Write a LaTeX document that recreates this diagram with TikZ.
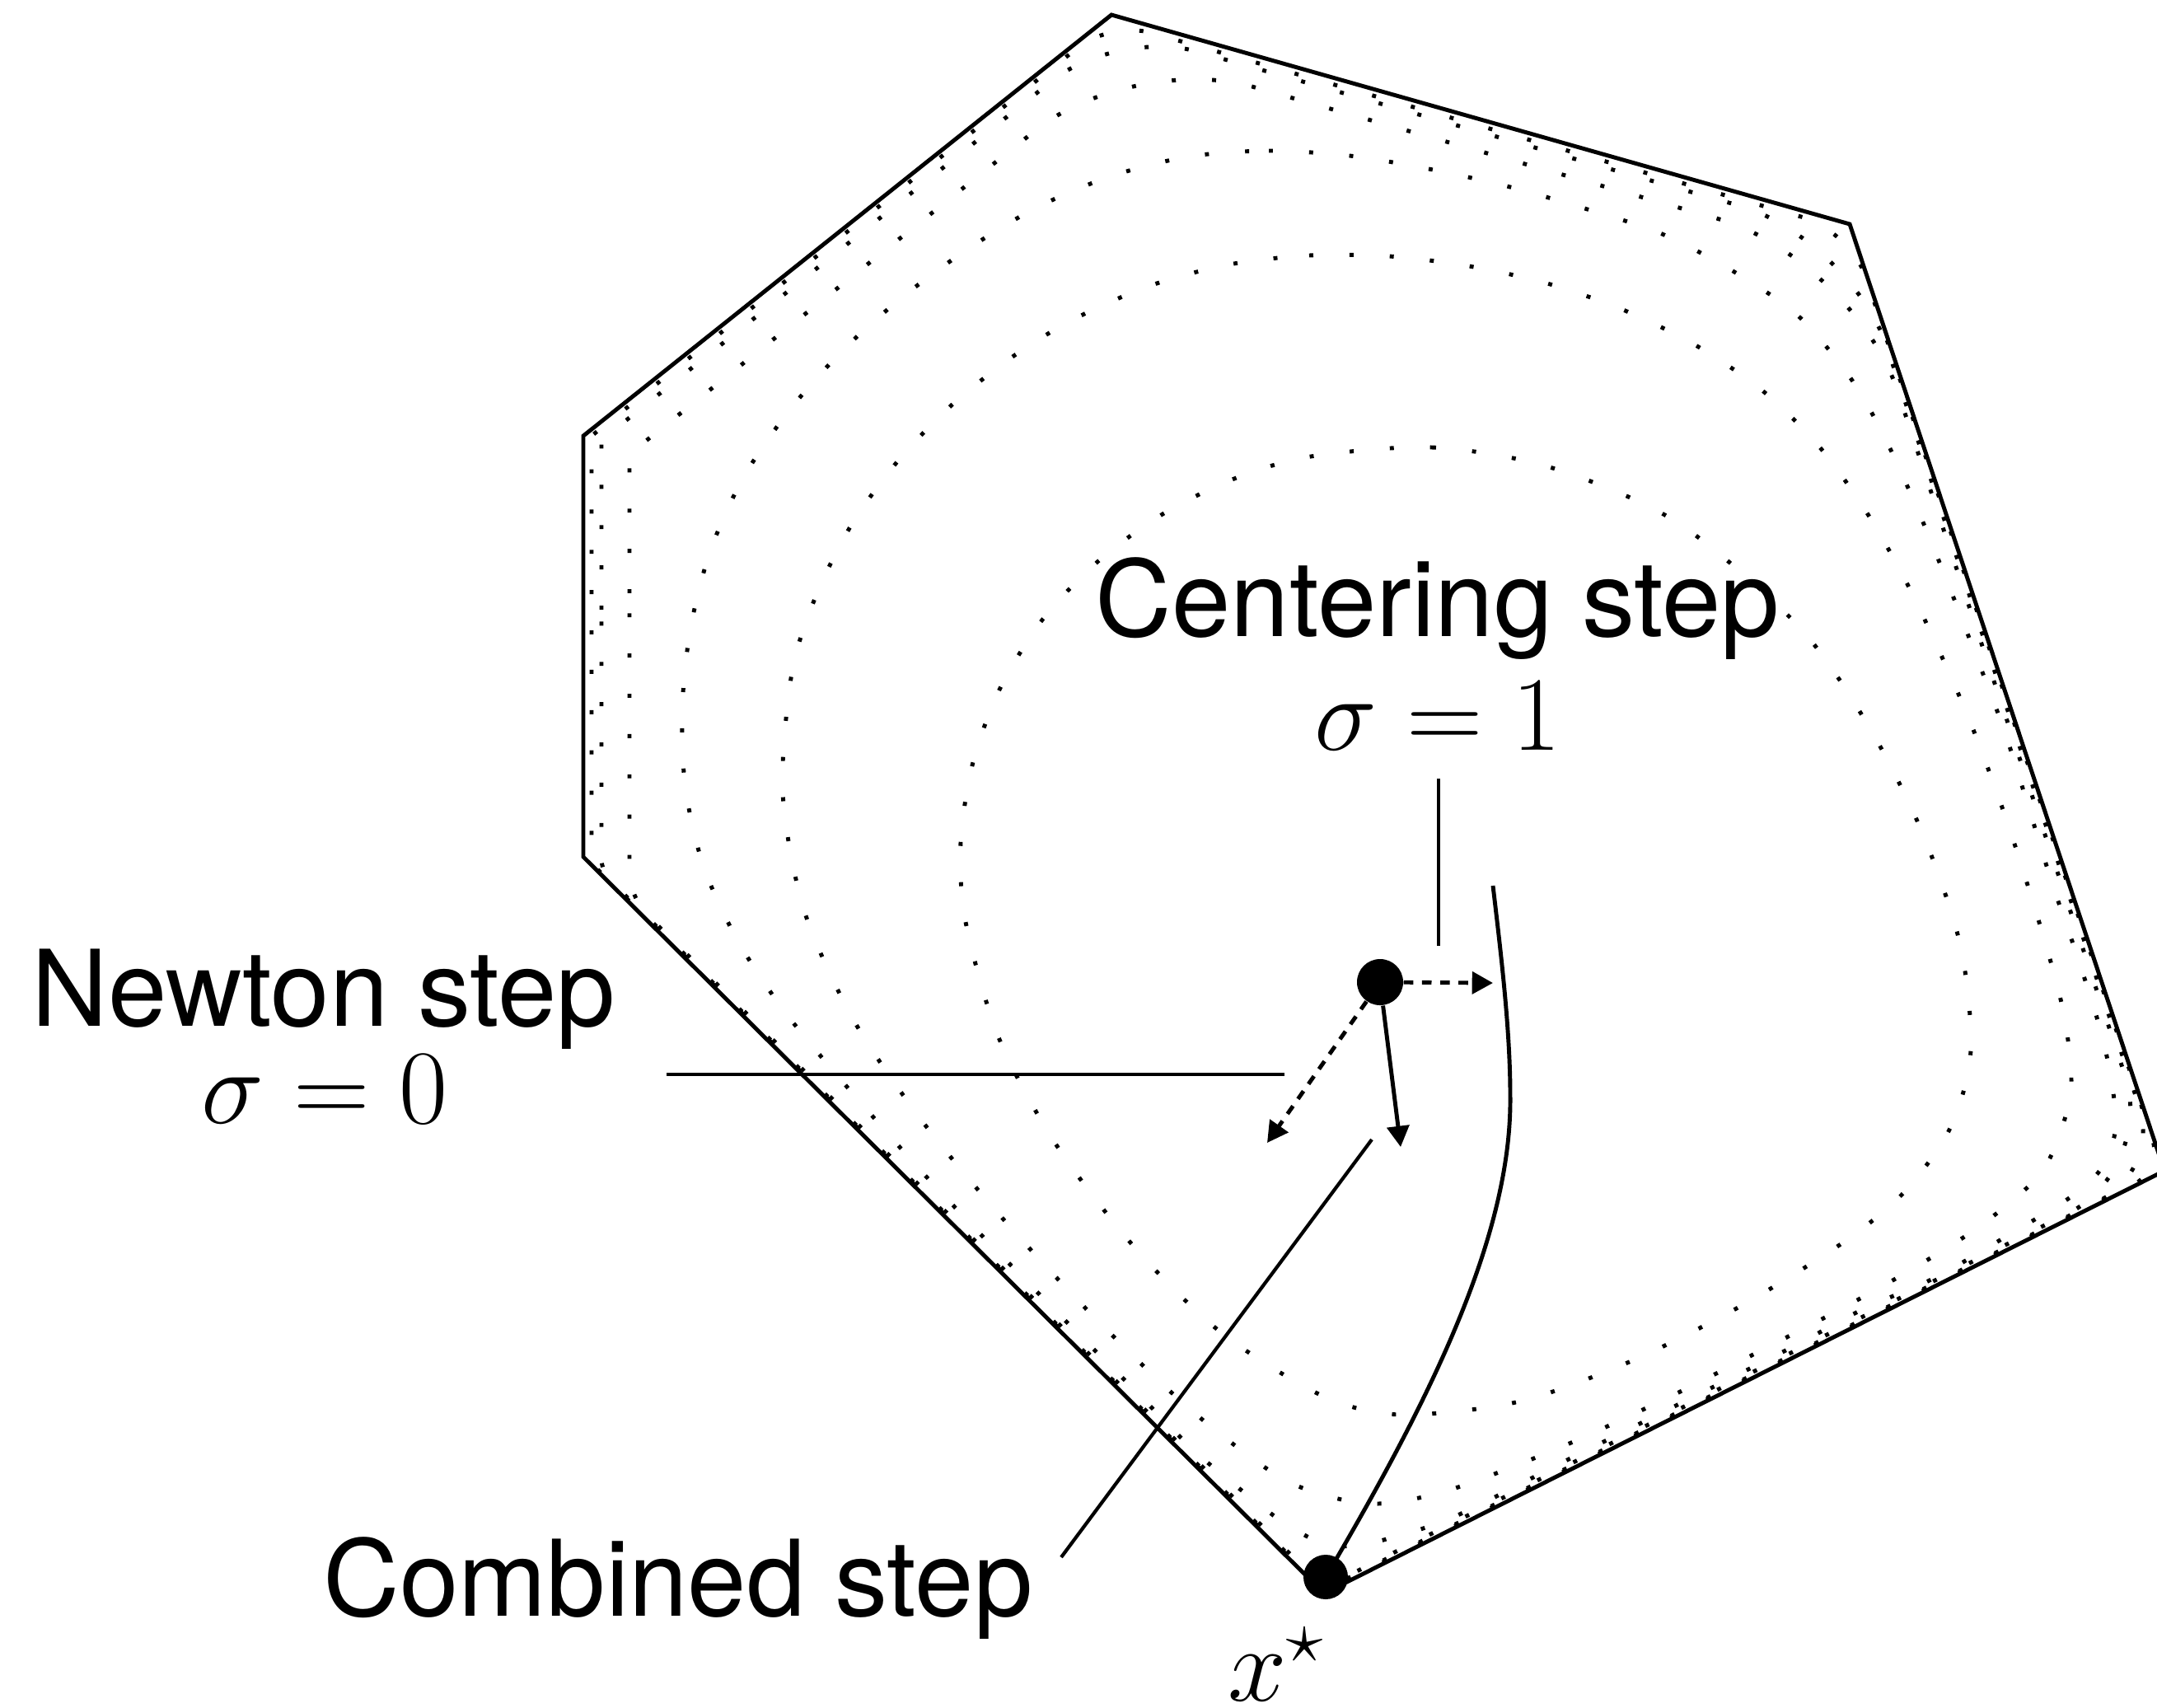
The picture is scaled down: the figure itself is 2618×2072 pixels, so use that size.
\RequirePackage{fix-cm}
\documentclass[tikz,border=0pt]{standalone}
\usepackage{fontspec}
\setsansfont{TeX Gyre Heros}
\usetikzlibrary{arrows.meta}

\begin{document}
\begin{tikzpicture}[x=0.01cm, y=-0.01cm,
	bnd/.style={line width=1.4pt},
	lvl/.style={line width=1.4pt, dash pattern=on 1.4pt off 12.5pt},
	ptr/.style={line width=1.2pt},
	arr/.style={line width=1.4pt, -{Triangle[length=7.2pt, width=7.6pt]}},
	dsh/.style={arr, dash pattern=on 3.3pt off 3pt},
	ptdot/.style={circle, fill, inner sep=0pt, minimum size=0.56cm},
	lbl/.style={font=\fontsize{36.5}{40}\selectfont\sffamily, inner sep=0pt, anchor=base}]
	\useasboundingbox (0,0) rectangle (2618,2072);

	% level sets of the barrier
	\draw[lvl] plot[smooth cycle] coordinates {(1591,554) (1738,543) (1881,567) (2034,633) (2181,758) (2266,878) (2332,1008) (2379,1146) (2392,1274) (2368,1367) (2312,1446) (2237,1508) (2113,1585) (1982,1651) (1844,1701) (1700,1717) (1605,1694) (1483,1618) (1378,1515) (1281,1388) (1212,1259) (1172,1119) (1166,1022) (1181,925) (1214,835) (1266,751) (1333,681) (1411,624) (1498,581)};
	\draw[lvl] plot[smooth cycle] coordinates {(1492,321) (1589,310) (1686,311) (1783,323) (1878,344) (1970,376) (2058,419) (2139,474) (2208,542) (2265,621) (2313,705) (2355,793) (2394,883) (2438,1003) (2482,1143) (2506,1237) (2513,1327) (2481,1418) (2410,1483) (2328,1536) (2243,1584) (2157,1629) (2027,1695) (1893,1757) (1757,1809) (1662,1825) (1569,1801) (1488,1746) (1413,1682) (1310,1580) (1211,1472) (1118,1359) (1036,1238) (976,1105) (950,962) (961,817) (990,724) (1034,636) (1091,558) (1159,488) (1236,428) (1308,385) (1398,346)};
	\draw[lvl] plot[smooth cycle] coordinates {(1443,190) (1540,183) (1638,189) (1734,205) (1829,226) (1920,252) (2015,283) (2100,327) (2181,382) (2244,456) (2285,526) (2326,615) (2363,705) (2398,795) (2432,885) (2461,976) (2490,1070) (2522,1163) (2551,1256) (2565,1327) (2567,1375) (2549,1420) (2513,1453) (2431,1503) (2348,1551) (2261,1589) (2177,1634) (2050,1698) (1900,1773) (1760,1843) (1658,1874) (1610,1874) (1567,1854) (1526,1824) (1452,1763) (1377,1687) (1308,1618) (1240,1549) (1172,1479) (1106,1408) (1009,1297) (948,1222) (895,1141) (854,1052) (832,957) (828,860) (838,763) (862,669) (902,580) (958,498) (1024,424) (1096,360) (1175,302) (1258,252) (1348,214)};
	\draw[lvl] (764,820) -- (764,551) [rounded corners=1.5cm] -- (1375,64) [rounded corners=1.7cm] -- (2249,312) [rounded corners=1.2cm] -- (2617,1419) [rounded corners=0.4cm] -- (1607,1927) [rounded corners=0.3cm] -- (764,1089) [rounded corners=1cm] -- cycle;
	\draw[lvl] (730,800) -- (730,534) [rounded corners=1cm] -- (1356,35) [rounded corners=1.4cm] -- (2246,288) [rounded corners=0.8cm] -- (2622,1420) [rounded corners=0.2cm] -- (1607,1930) [rounded corners=0.15cm] -- (730,1058) [rounded corners=0.6cm] -- cycle;
	\draw[lvl] (718,800) -- (718,529) [rounded corners=0.5cm] -- (1348,26) [rounded corners=0.6cm] -- (2246,280) [rounded corners=0.4cm] -- (2625,1420) [rounded corners=0.1cm] -- (1607,1932) [rounded corners=0.1cm] -- (718,1048) [rounded corners=0.3cm] -- cycle;

	% feasible set
	\draw[bnd] (708,529) -- (1349,18) -- (2245,272) -- (2627,1421) -- (1607,1934) -- (708,1040) -- cycle;

	% central path
	\coordinate (cp0) at (1812,1075);
	\coordinate (cp1) at (1833,1330);
	\coordinate (xsc) at (1609,1914);
	\draw[bnd] (cp0) .. controls (1822,1160) and (1833,1250) .. (cp1) .. controls (1835,1500) and (1735,1700) .. (xsc);

	\node[ptdot] (mu) at (1675,1192) {};
	\node[ptdot, minimum size=0.54cm] (xs) at (xsc) {};

	% steps
	\coordinate (cend) at (1812,1193);
	\coordinate (nend) at (1538,1387);
	\coordinate (bend) at (1700,1392);
	\draw[dsh] (mu) -- (cend);
	\draw[dsh] (mu) -- (nend);
	\draw[arr] (mu) -- (bend);

	% pointers
	\coordinate (cp) at (1746,945);
	\coordinate (cq) at (1746,1148);
	\coordinate (np) at (809,1304);
	\coordinate (nq) at (1559,1304);
	\coordinate (bp) at (1288,1890);
	\coordinate (bq) at (1665,1383);
	\draw[ptr] (cp) -- (cq);
	\draw[ptr] (np) -- (nq);
	\draw[ptr] (bp) -- (bq);

	\node[lbl] (cstep) at (1745,772) {Centering step};
	\node[lbl] (csig) at (1745,910) {$\sigma=1$};
	\node[lbl] (nstep) at (393,1245) {Newton step};
	\node[lbl] (nsig) at (394,1363) {$\sigma=0$};
	\node[lbl] (bstep) at (823,1961) {Combined step};
	\node[lbl] (xlab) at (1549,2064) {$x^\star$};
\end{tikzpicture}
\end{document}
